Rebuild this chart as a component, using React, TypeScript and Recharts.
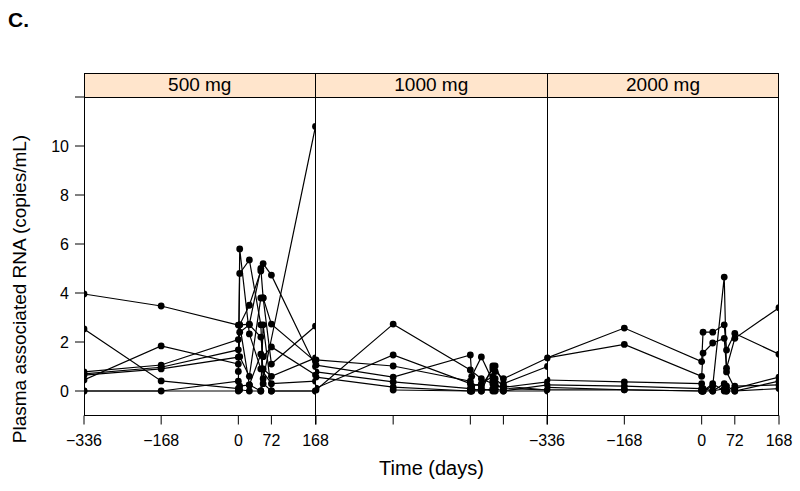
import React from 'react';
import { LineChart, Line, XAxis, YAxis } from 'recharts';

// sampling days (relative to first infusion)
const days = [-336, -168, 0, 3, 24, 49, 54, 72, 168];

// one row per subject, values at each of `days` (null = not sampled)
const rna500: (number | null)[][] = [
  [3.96, 3.47, 2.69, null, 2.73, 5.0, 3.8, 1.1, 2.65],
  [2.53, 0.41, 0.1, 5.8, 2.33, 0.9, null, 0.3, 0.4],
  [0.45, 1.84, 1.1, 4.8, 5.35, 2.7, 0.5, null, 10.8],
  [0.78, 1.06, 2.1, 2.7, 3.5, 4.9, 5.2, 4.73, 1.0],
  [0.7, 0.97, 1.68, 1.4, 0.6, 3.8, 3.8, 2.73, 1.2],
  [0.65, 0.9, 1.38, 2.4, 2.7, 2.2, 1.4, 1.8, 0.65],
  [0.0, 0.0, 0.4, 0.2, 0.25, 1.5, 0.9, 0.6, 1.35],
  [0.0, null, 0.0, 0.05, 0.0, 0.0, 0.3, 0.0, 0.0],
  [null, null, 0.8, 2.7, 0.25, 0.0, 2.7, 0.0, 0.0],
];

const rna1000: (number | null)[][] = [
  [0.04, 2.73, 0.86, null, 0.5, 0.3, 0.2, 0.15, 0.37],
  [0.12, 1.47, 0.3, null, 0.2, 0.9, 1.02, 0.3, 1.0],
  [1.27, 1.02, 0.4, 0.2, 0.3, 0.6, 0.5, 0.2, 0.04],
  [1.06, 0.57, 1.47, 0.6, 1.39, 0.4, 0.1, 0.0, 0.25],
  [0.78, 0.37, 0.1, 0.1, 0.0, 1.02, 0.8, 0.5, 1.35],
  [0.57, 0.16, 0.0, 0.0, 0.1, 0.0, 0.3, 0.1, 0.04],
  [null, 0.04, 0.0, 0.0, 0.0, 0.1, 0.0, 0.0, 0.0],
];

const rna2000: (number | null)[][] = [
  [1.35, 2.57, 1.2, 2.4, 2.4, 2.7, 1.67, 2.35, 1.5],
  [1.35, 1.9, 0.6, 1.55, 1.96, 2.15, 0.93, 2.15, 3.4],
  [0.45, 0.37, 0.3, 0.0, 0.2, 4.65, 0.78, 0.1, 0.57],
  [0.25, 0.2, 0.1, 0.0, 0.3, 0.0, 0.2, 0.0, 0.4],
  [0.15, 0.05, 0.0, 0.1, 0.0, 0.3, 0.0, 0.2, 0.25],
  [0.05, 0.05, 0.0, 0.0, 0.0, 0.1, 0.0, 0.0, 0.1],
];

const doses = ['500 mg', '1000 mg', '2000 mg'];
const xTicks = [-336, -168, 0, 72, 168];
const yTicks = [0, 2, 4, 6, 8, 10, 12];
const yLabelled = [0, 2, 4, 6, 8, 10];

const FONT = '"Liberation Sans", Arial, Helvetica, sans-serif';
const TOP = 97;
const BOTTOM = 415.5;
const panelX = [84, 315.5, 547, 779];
const PAD_L = 84; // room left of each plot area (y labels / overflowing x labels)
const PAD_R = 21; // room right of each plot area

const toRows = (subjects: (number | null)[][]) =>
  days.map((d, i) => {
    const row: Record<string, number | null> = { day: d };
    subjects.forEach((s, k) => {
      row['s' + k] = s[i];
    });
    return row;
  });

const fmt = (v: number) => (v < 0 ? '\u2212' + Math.abs(v) : String(v));

const XTick = ({ x, y, payload }: any) => (
  <text x={x} y={y + 19} textAnchor="middle" fontSize={16} fontFamily={FONT} fill="#000">
    {fmt(payload.value)}
  </text>
);
const NoTick = () => <g />;
const YTick = ({ x, y, payload }: any) =>
  yLabelled.includes(payload.value) ? (
    <text x={x - 4} y={y + 6} textAnchor="end" fontSize={16} fontFamily={FONT} fill="#000">
      {payload.value}
    </text>
  ) : (
    <g />
  );

const Panel = ({ idx, subjects }: { idx: number; subjects: (number | null)[][] }) => {
  const rows = toRows(subjects);
  const plotW = panelX[idx + 1] - panelX[idx];
  const left = panelX[idx] - PAD_L;
  const width = PAD_L + plotW + PAD_R;
  const showLeft = idx === 0;
  const showRight = idx === 2;
  return (
    <div style={{ position: 'absolute', left, top: 0 }}>
      <LineChart
        width={width}
        height={491}
        data={rows}
        margin={{ top: TOP, right: showRight ? 0 : PAD_R, bottom: 0, left: showLeft ? 0 : PAD_L }}
      >
        <XAxis
          dataKey="day"
          type="number"
          domain={[-336, 168]}
          ticks={xTicks}
          allowDataOverflow
          height={491 - BOTTOM}
          axisLine={false}
          tickLine={{ stroke: '#000' }}
          tickSize={9}
          tick={idx === 1 ? <NoTick /> : <XTick />}
          interval={0}
        />
        <YAxis
          type="number"
          domain={[-1, 12]}
          ticks={yTicks}
          allowDataOverflow
          hide={!showLeft}
          width={PAD_L}
          axisLine={false}
          tickLine={{ stroke: '#000' }}
          tickSize={9}
          tick={<YTick />}
          interval={0}
        />
        {showRight && (
          <YAxis
            yAxisId="r"
            orientation="right"
            type="number"
            domain={[-1, 12]}
            ticks={yTicks}
            width={PAD_R}
            axisLine={false}
            tickLine={{ stroke: '#000' }}
            tickSize={9}
            tick={<NoTick />}
            interval={0}
          />
        )}
        {subjects.map((_, k) => (
          <Line
            key={k}
            dataKey={'s' + k}
            stroke="#000"
            strokeWidth={1.2}
            connectNulls
            dot={{ r: 3.4, fill: '#000', stroke: '#000', strokeWidth: 0 }}
            isAnimationActive={false}
          />
        ))}
      </LineChart>
    </div>
  );
};

export default function App() {
  const frameL = panelX[0];
  const frameR = panelX[3];
  return (
    <div style={{ position: 'absolute', left: 0, top: 0, width: 800, height: 491, background: '#fff', fontFamily: FONT }}>
      {/* strips */}
      <div style={{ position: 'absolute', left: frameL, top: 73, width: frameR - frameL, height: TOP - 73, background: '#ffe5cc' }} />
      {doses.map((d, i) => (
        <div
          key={d}
          style={{
            position: 'absolute',
            left: panelX[i],
            width: panelX[i + 1] - panelX[i],
            top: 74,
            height: 22,
            lineHeight: '22px',
            textAlign: 'center',
            fontSize: 19,
          }}
        >
          {d}
        </div>
      ))}
      {/* panel frames */}
      <div style={{ position: 'absolute', left: frameL, top: 73, width: frameR - frameL, height: BOTTOM - 73, border: '1px solid #000', boxSizing: 'border-box' }} />
      <div style={{ position: 'absolute', left: frameL, top: TOP - 0.5, width: frameR - frameL, height: 1, background: '#000' }} />
      {[panelX[1], panelX[2]].map((x) => (
        <div key={x} style={{ position: 'absolute', left: x - 0.5, top: 73, width: 1, height: BOTTOM - 73, background: '#000' }} />
      ))}
      <Panel idx={0} subjects={rna500} />
      <Panel idx={1} subjects={rna1000} />
      <Panel idx={2} subjects={rna2000} />
      <div style={{ position: 'absolute', left: 8, top: 8, fontSize: 21, fontWeight: 'bold' }}>C.</div>
      <div style={{ position: 'absolute', left: frameL, width: frameR - frameL, top: 457, textAlign: 'center', fontSize: 20 }}>
        Time (days)
      </div>
      <div
        style={{
          position: 'absolute',
          left: 20,
          top: 289,
          transform: 'translate(-50%, -50%) rotate(-90deg)',
          whiteSpace: 'nowrap',
          fontSize: 19,
        }}
      >
        Plasma associated RNA (copies/mL)
      </div>
    </div>
  );
}
